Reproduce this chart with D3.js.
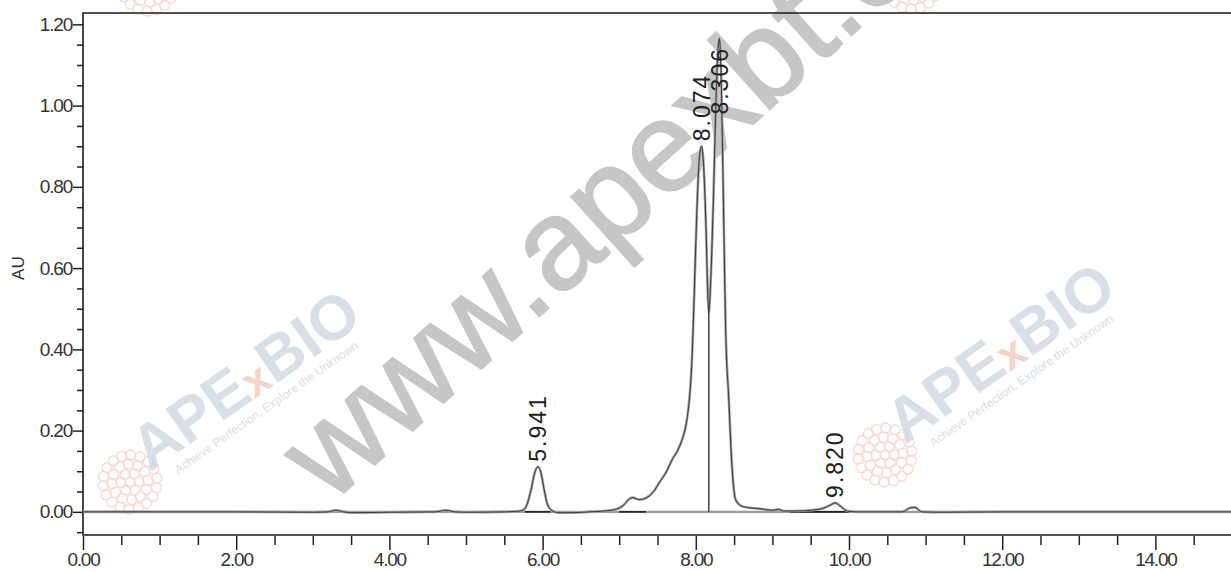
<!DOCTYPE html>
<html>
<head>
<meta charset="utf-8">
<script src="https://cdn.jsdelivr.net/npm/d3@7/dist/d3.min.js"></script>
<style>
  body { margin: 0; background: #fff; }
  svg { display: block; }
  .tick text { font-family: "Liberation Sans", Arial, sans-serif; font-size: 19px; letter-spacing: -1.2px; fill: #333; }
  .tick line { stroke: #222; stroke-width: 1.5; }
  .domain { display: none; }
</style>
</head>
<body>
<div id="chart"></div>
<script>
// retention time (min) / absorbance (AU)
var times = [0, 1.0, 2.0, 3.0, 3.2, 3.3, 3.4, 3.5, 4.0, 4.6, 4.74, 4.85, 5.0, 5.5, 5.7, 5.76, 5.8, 5.85, 5.9, 5.94, 5.98, 6.02, 6.06, 6.11, 6.2, 6.4, 6.6, 6.8, 6.97, 7.06, 7.12, 7.18, 7.26, 7.35, 7.45, 7.52, 7.62, 7.69, 7.76, 7.82, 7.86, 7.89, 7.92, 7.945, 7.965, 7.99, 8.02, 8.05, 8.074, 8.10, 8.13, 8.16, 8.17, 8.19, 8.23, 8.27, 8.306, 8.33, 8.36, 8.39, 8.43, 8.47, 8.52, 8.6, 8.7, 8.82, 9.0, 9.08, 9.15, 9.3, 9.5, 9.65, 9.75, 9.82, 9.9, 9.98, 10.1, 10.7, 10.8, 10.86, 10.95, 11.2, 12.0, 15.0];
var absorb = [0, 0, 0, -0.001, 0, 0.004, 0, -0.002, -0.001, 0, 0.004, 0, -0.001, 0, 0.002, 0.006, 0.02, 0.055, 0.098, 0.111, 0.095, 0.055, 0.02, 0.005, -0.002, -0.002, 0, 0.002, 0.007, 0.017, 0.03, 0.035, 0.03, 0.034, 0.05, 0.071, 0.1, 0.128, 0.15, 0.177, 0.203, 0.235, 0.285, 0.355, 0.45, 0.6, 0.77, 0.88, 0.90, 0.86, 0.72, 0.52, 0.49, 0.55, 0.77, 1.05, 1.165, 1.08, 0.77, 0.447, 0.28, 0.12, 0.03, 0.014, 0.01, 0.008, 0.004, 0.006, 0.002, 0.002, 0.004, 0.008, 0.016, 0.022, 0.012, 0.002, 0, 0, 0.01, 0.011, 0, -0.001, 0, 0];

// labelled peaks
var peakTimes = [5.941, 8.074, 8.306, 9.820];
var peakHeights = [0.111, 0.90, 1.165, 0.022];

// drop line between the two main peaks
var dropTime = 8.17;
var dropHeight = 0.49;

// integration baseline pieces (start, end)
var segStart = [5.77, 7.0, 9.23, 11.8];
var segEnd = [6.1, 7.35, 10.0, 13.1];

var xMajor = [0, 2, 4, 6, 8, 10, 12, 14];
var yMajor = [0, 0.2, 0.4, 0.6, 0.8, 1.0, 1.2];

var W = 1231, H = 572;
var mLeft = 83, mTop = 13, mRight = 1232, mBottom = 535;

var svg = d3.select("#chart").append("svg")
    .attr("width", W)
    .attr("height", H);

var x = d3.scaleLinear().domain([0, 15]).range([mLeft, mRight]);
var y = d3.scaleLinear().domain([-0.057, 1.228]).range([mBottom, mTop]);

// ---- watermarks (behind everything)
var wm = svg.append("g").attr("class", "watermark");

function flower(cx, cy) {
  var g = wm.append("g").attr("transform", "translate(" + cx + "," + cy + ")").attr("opacity", 0.6);
  g.append("circle").attr("r", 5).attr("fill", "none").attr("stroke", "#f3c3b3").attr("stroke-width", 1.3);
  for (var ring = 1; ring <= 3; ring++) {
    var n = ring * 6;
    for (var k = 0; k < n; k++) {
      var a = k / n * Math.PI * 2 + ring;
      g.append("circle")
        .attr("cx", Math.cos(a) * ring * 9)
        .attr("cy", Math.sin(a) * ring * 9)
        .attr("r", 5)
        .attr("fill", "none")
        .attr("stroke", "#f3c3b3")
        .attr("stroke-width", 1.3);
    }
  }
}
flower(130, 482);
flower(885, 455);
flower(148, -16);
flower(912, -18);

function logo(x0, y0) {
  var g = wm.append("g").attr("transform", "translate(" + x0 + "," + y0 + ") rotate(-35)").attr("opacity", 0.75);
  var t = g.append("text")
    .attr("font-family", "Liberation Sans, Arial, sans-serif")
    .attr("font-weight", "bold")
    .attr("font-size", 62)
    .attr("fill", "#ccd5df");
  t.append("tspan").text("APE");
  t.append("tspan").attr("fill", "#f4c4b6").attr("font-size", 44).text("x");
  t.append("tspan").text("BIO");
  g.append("text")
    .attr("x", 22).attr("y", 18)
    .attr("font-family", "Liberation Sans, Arial, sans-serif")
    .attr("font-size", 12)
    .attr("fill", "#ccd5df")
    .text("Achieve Perfection, Explore the Unknown");
}
logo(150, 472);
logo(905, 445);

wm.append("text")
  .attr("transform", "translate(330,505) rotate(-42)")
  .attr("font-family", "Liberation Sans, Arial, sans-serif")
  .attr("font-size", 128)
  .attr("fill", "#c6c6c6")
  .attr("stroke", "#c6c6c6")
  .attr("stroke-width", 2)
  .text("www.apexbt.com");

// ---- axes
var yAxisMinor = d3.axisLeft(y)
    .tickValues(d3.range(-0.05, 1.2001, 0.05).filter(function(v){ return Math.abs(Math.round(v * 5) - v * 5) > 1e-6; }))
    .tickSize(6).tickFormat("");
svg.append("g").attr("transform", "translate(" + mLeft + ",0)").call(yAxisMinor);

var yAxis = d3.axisLeft(y).tickValues(yMajor).tickSize(10).tickPadding(1).tickFormat(d3.format(".2f"));
svg.append("g").attr("transform", "translate(" + mLeft + ",0)").call(yAxis);

var xAxisMinor = d3.axisBottom(x)
    .tickValues(d3.range(0.5, 15, 0.5).filter(function(v){ return v % 2 !== 0; }))
    .tickSize(9).tickFormat("");
svg.append("g").attr("transform", "translate(0," + (mBottom + 1) + ")").call(xAxisMinor);

var xAxis = d3.axisBottom(x).tickValues(xMajor).tickSize(14).tickPadding(3).tickFormat(d3.format(".2f"));
svg.append("g").attr("transform", "translate(0," + (mBottom + 1) + ")").call(xAxis);

// frame
svg.append("path")
  .attr("d", "M" + mRight + "," + mTop + "H" + mLeft + "V" + mBottom + "H" + mRight)
  .attr("fill", "none")
  .attr("stroke", "#1a1a1a")
  .attr("stroke-width", 1.6);

svg.append("text")
  .attr("transform", "translate(24," + y(0.6) + ") rotate(-90)")
  .attr("text-anchor", "middle")
  .attr("font-family", "Liberation Sans, Arial, sans-serif")
  .attr("font-size", 17)
  .attr("fill", "#333")
  .text("AU");

// ---- trace
var plot = svg.append("g");

plot.append("line")
  .attr("x1", x(0)).attr("x2", mRight)
  .attr("y1", y(0)).attr("y2", y(0))
  .attr("stroke", "#9c9c9c").attr("stroke-width", 2.4);

plot.selectAll(".seg").data(segStart).enter().append("line")
  .attr("class", "seg")
  .attr("x1", function(d){ return x(d); })
  .attr("x2", function(d, i){ return x(segEnd[i]); })
  .attr("y1", y(0)).attr("y2", y(0))
  .attr("stroke", "#222").attr("stroke-width", 1.6);

var pts = times.map(function(t, i){ return [t, absorb[i]]; });
var line = d3.line()
  .x(function(d){ return x(d[0]); })
  .y(function(d){ return y(d[1]); })
  .curve(d3.curveMonotoneX);

plot.append("path").datum(pts)
  .attr("d", line).attr("fill", "none")
  .attr("stroke", "#a0a0a0").attr("stroke-width", 2.6);
plot.append("path").datum(pts)
  .attr("d", line).attr("fill", "none")
  .attr("stroke", "#2a2a2a").attr("stroke-width", 1.0).attr("stroke-opacity", 0.85);

plot.append("line")
  .attr("x1", x(dropTime)).attr("x2", x(dropTime))
  .attr("y1", y(dropHeight)).attr("y2", y(0))
  .attr("stroke", "#111").attr("stroke-width", 1.2);

// ---- peak labels
plot.selectAll(".plabel").data(peakTimes).enter().append("text")
  .attr("class", "plabel")
  .attr("font-family", "Liberation Sans, Arial, sans-serif")
  .attr("font-size", 23)
  .attr("letter-spacing", "2px")
  .attr("fill", "#222")
  .attr("dy", "0.36em")
  .text(function(d){ return d3.format(".3f")(d); })
  .each(function(d, i) {
    var len = this.getComputedTextLength();
    var yy = Math.max(y(peakHeights[i]) - 5, mTop + 34 + len);
    d3.select(this).attr("transform", "translate(" + x(d) + "," + yy + ") rotate(-90)");
  });
</script>
</body>
</html>
